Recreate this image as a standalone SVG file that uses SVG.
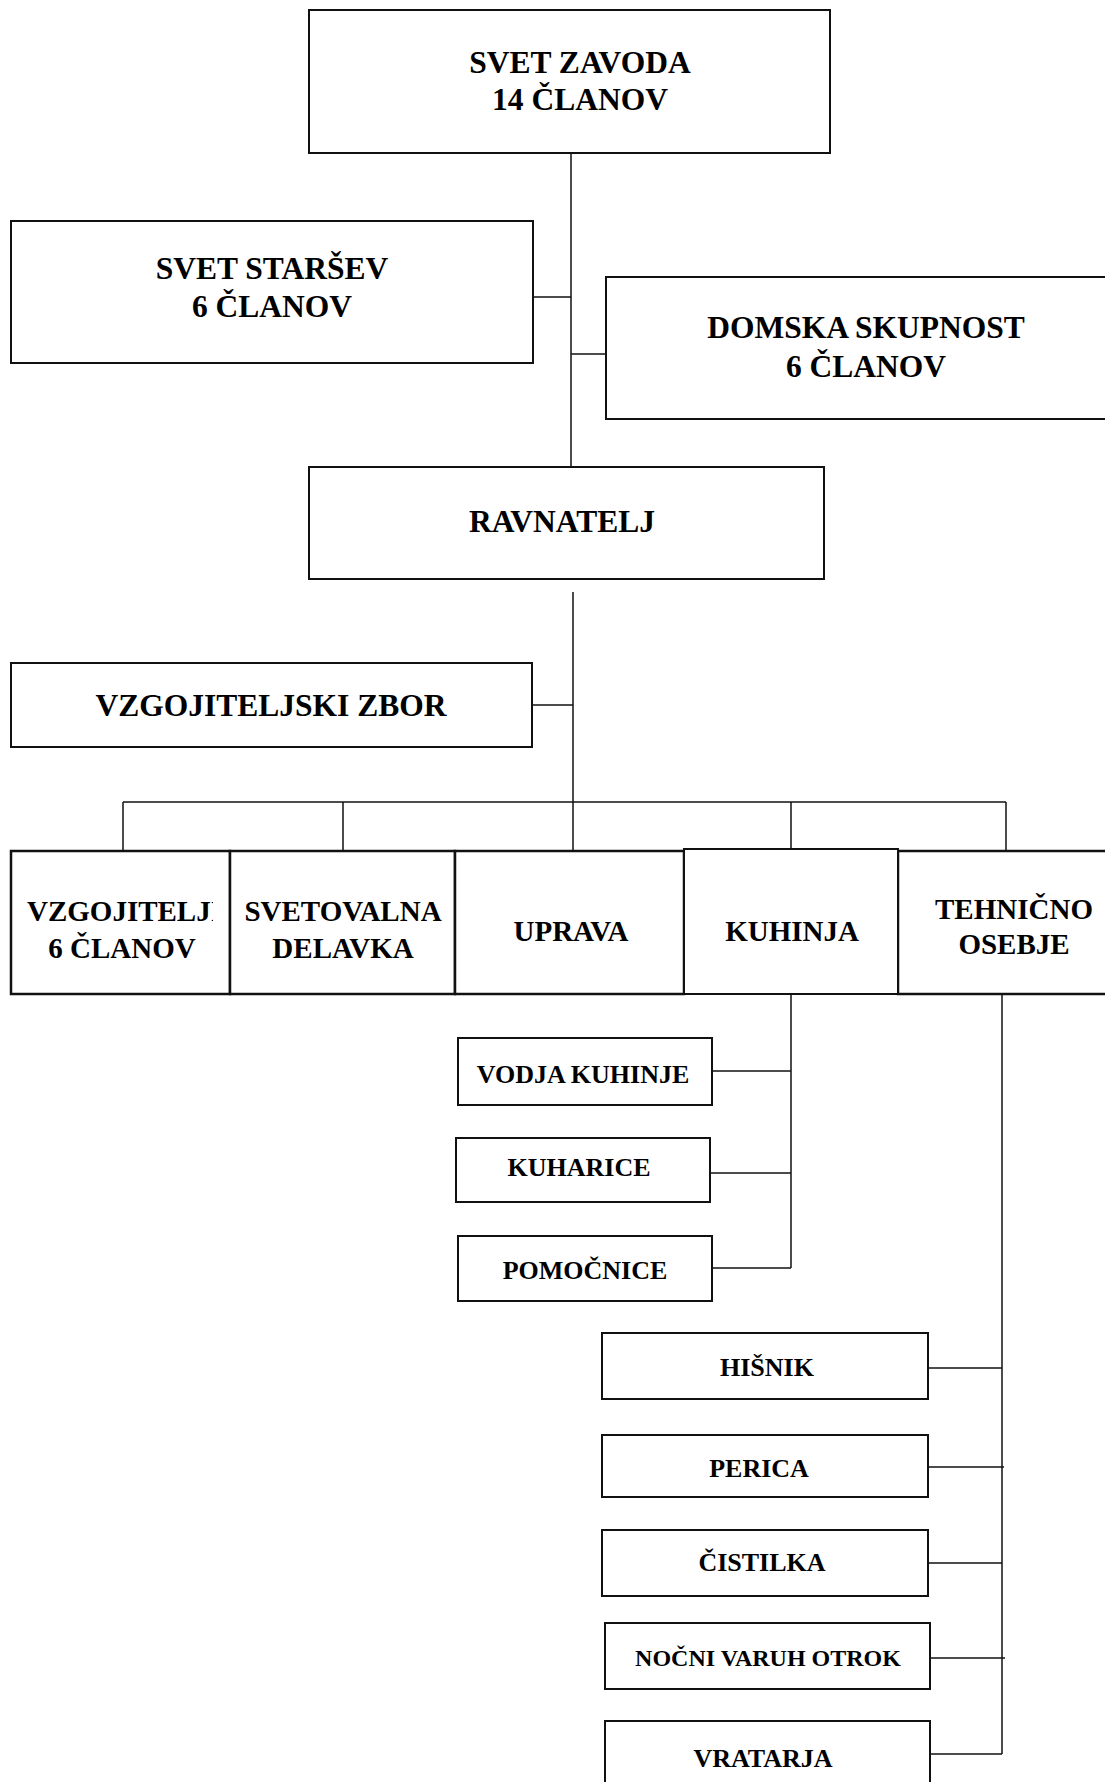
<svg xmlns="http://www.w3.org/2000/svg" width="1105" height="1782" viewBox="0 0 1105 1782">
<style>
  .box { fill: #fff; stroke: #111; stroke-width: 2; }
  .row { fill: #fff; stroke: #111; stroke-width: 2.5; }
  .conn { fill: none; stroke: #111; stroke-width: 1.5; }
  text { font-family: "Liberation Serif", "Times New Roman", serif; font-weight: bold; fill: #000; text-anchor: middle; }
  .t1 { font-size: 31.5px; }
  .t2 { font-size: 29px; }
  .t3 { font-size: 26px; }
  .t4 { font-size: 24px; }
</style>
<defs>
  <clipPath id="clipVz"><rect x="11" y="851" width="202" height="143"/></clipPath>
</defs>
<rect x="0" y="0" width="1105" height="1782" fill="#fff"/>

<g id="connectors">
  <path class="conn" d="M571 153 V467"/>
  <path class="conn" d="M533 297 H571"/>
  <path class="conn" d="M571 354 H606"/>
  <path class="conn" d="M573 592 V851"/>
  <path class="conn" d="M532 705 H573"/>
  <path class="conn" d="M123 802 H1006"/>
  <path class="conn" d="M123 802 V851"/>
  <path class="conn" d="M343 802 V851"/>
  <path class="conn" d="M791 802 V849"/>
  <path class="conn" d="M1006 802 V851"/>
  <path class="conn" d="M791 994 V1268"/>
  <path class="conn" d="M712 1071 H791"/>
  <path class="conn" d="M710 1173 H791"/>
  <path class="conn" d="M712 1268 H791"/>
  <path class="conn" d="M1002 994 V1754"/>
  <path class="conn" d="M928 1368 H1002"/>
  <path class="conn" d="M928 1467 H1004"/>
  <path class="conn" d="M928 1563 H1002"/>
  <path class="conn" d="M930 1658 H1005"/>
  <path class="conn" d="M930 1754 H1002"/>
</g>

<g id="svet-zavoda">
  <rect class="box" x="309" y="10" width="521" height="143"/>
  <text class="t1" x="580" y="73">SVET ZAVODA</text>
  <text class="t1" x="580" y="110">14 ČLANOV</text>
</g>

<g id="svet-starsev">
  <rect class="box" x="11" y="221" width="522" height="142"/>
  <text class="t1" x="272" y="279">SVET STARŠEV</text>
  <text class="t1" x="272" y="317">6 ČLANOV</text>
</g>

<g id="domska-skupnost">
  <rect class="box" x="606" y="277" width="510" height="142"/>
  <text class="t1" x="866" y="338">DOMSKA SKUPNOST</text>
  <text class="t1" x="866" y="377">6 ČLANOV</text>
</g>

<g id="ravnatelj">
  <rect class="box" x="309" y="467" width="515" height="112"/>
  <text class="t1" x="562" y="532">RAVNATELJ</text>
</g>

<g id="vzgojiteljski-zbor">
  <rect class="box" x="11" y="663" width="521" height="84"/>
  <text class="t1" x="271" y="716">VZGOJITELJSKI ZBOR</text>
</g>

<g id="vzgojitelji">
  <rect class="row" x="11" y="851" width="219" height="143"/>
  <text class="t2" x="124.5" y="921" clip-path="url(#clipVz)">VZGOJITELJI</text>
  <text class="t2" x="122" y="958">6 ČLANOV</text>
</g>

<g id="svetovalna-delavka">
  <rect class="row" x="230" y="851" width="225" height="143"/>
  <text class="t2" x="343" y="921">SVETOVALNA</text>
  <text class="t2" x="343" y="958">DELAVKA</text>
</g>

<g id="uprava">
  <rect class="row" x="455" y="851" width="229" height="143"/>
  <text class="t2" x="571" y="941">UPRAVA</text>
</g>

<g id="tehnicno-osebje">
  <rect class="row" x="898" y="851" width="220" height="143"/>
  <text class="t2" x="1014" y="919">TEHNIČNO</text>
  <text class="t2" x="1014" y="954">OSEBJE</text>
</g>

<g id="kuhinja">
  <rect class="box" x="684" y="849" width="214" height="145"/>
  <text class="t2" x="792" y="941">KUHINJA</text>
</g>

<g id="vodja-kuhinje">
  <rect class="box" x="458" y="1038" width="254" height="67"/>
  <text class="t3" x="583" y="1083">VODJA KUHINJE</text>
</g>

<g id="kuharice">
  <rect class="box" x="456" y="1138" width="254" height="64"/>
  <text class="t3" x="579" y="1176">KUHARICE</text>
</g>

<g id="pomocnice">
  <rect class="box" x="458" y="1236" width="254" height="65"/>
  <text class="t3" x="585" y="1279">POMOČNICE</text>
</g>

<g id="hisnik">
  <rect class="box" x="602" y="1333" width="326" height="66"/>
  <text class="t3" x="767" y="1376">HIŠNIK</text>
</g>

<g id="perica">
  <rect class="box" x="602" y="1435" width="326" height="62"/>
  <text class="t3" x="759" y="1477">PERICA</text>
</g>

<g id="cistilka">
  <rect class="box" x="602" y="1530" width="326" height="66"/>
  <text class="t3" x="762" y="1571">ČISTILKA</text>
</g>

<g id="nocni-varuh-otrok">
  <rect class="box" x="605" y="1623" width="325" height="66"/>
  <text class="t4" x="768" y="1666">NOČNI VARUH OTROK</text>
</g>

<g id="vratarja">
  <rect class="box" x="605" y="1721" width="325" height="70"/>
  <text class="t3" x="763" y="1767">VRATARJA</text>
</g>
</svg>
